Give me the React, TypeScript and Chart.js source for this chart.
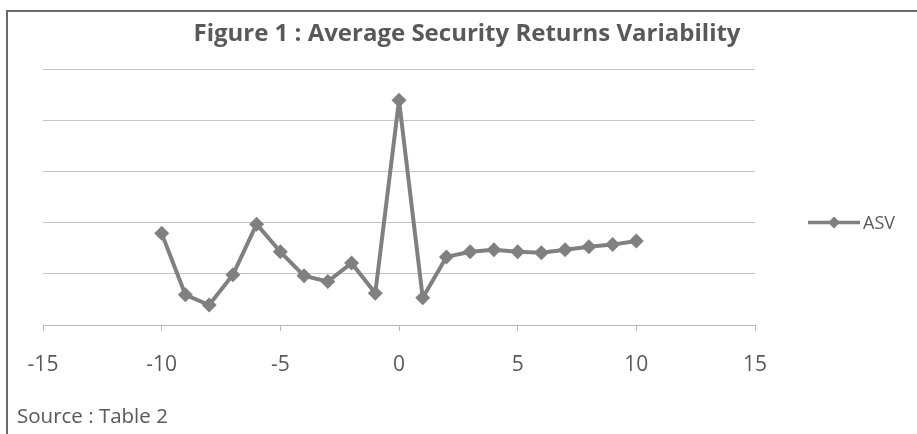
import React, { useEffect, useRef } from "react";
import { Chart, registerables } from "chart.js";

Chart.register(...registerables);

// Event-window days and average security returns variability (ASV)
const eventDays = [-10, -9, -8, -7, -6, -5, -4, -3, -2, -1, 0, 1, 2, 3, 4, 5, 6, 7, 8, 9, 10];
const asvValues = [1.79, 0.59, 0.39, 0.98, 1.97, 1.43, 0.96, 0.85, 1.21, 0.62, 4.39, 0.53, 1.33, 1.43, 1.47, 1.43, 1.41, 1.47, 1.53, 1.57, 1.64];
const xTickValues = [-15, -10, -5, 0, 5, 10, 15];
const seriesLabel = "ASV";
const titleText = "Figure 1 : Average Security Returns Variability";
const sourceText = "Source : Table 2";

const LINE_COLOR = "#808080";
const TEXT_COLOR = "#595959";
const FONT = "'Open Sans', Lato, sans-serif";

// Draws the series legend to the right of the plot area
const sideLegend = {
  id: "sideLegend",
  afterDraw(chart: any) {
    const ds = chart.data.datasets[0];
    const ctx = chart.ctx;
    const area = chart.chartArea;
    const y = area.top + (area.bottom - area.top) * 0.6;
    const x0 = area.right + 53;
    const x1 = x0 + 52;
    ctx.save();
    ctx.strokeStyle = ds.borderColor;
    ctx.lineWidth = 3.5;
    ctx.beginPath();
    ctx.moveTo(x0, y);
    ctx.lineTo(x1, y);
    ctx.stroke();
    ctx.fillStyle = ds.backgroundColor;
    const cx = (x0 + x1) / 2;
    const r = 6;
    ctx.beginPath();
    ctx.moveTo(cx, y - r);
    ctx.lineTo(cx + r, y);
    ctx.lineTo(cx, y + r);
    ctx.lineTo(cx - r, y);
    ctx.closePath();
    ctx.fill();
    ctx.fillStyle = TEXT_COLOR;
    ctx.font = `18px ${FONT}`;
    ctx.textBaseline = "middle";
    ctx.textAlign = "left";
    ctx.fillText(ds.label, x1 + 3, y + 1);
    ctx.restore();
  },
};

export default function App() {
  const canvasRef = useRef<HTMLCanvasElement | null>(null);

  useEffect(() => {
    if (!canvasRef.current) return;
    const chart = new Chart(canvasRef.current, {
      type: "scatter",
      data: {
        datasets: [
          {
            label: seriesLabel,
            data: eventDays.map((d, i) => ({ x: d, y: asvValues[i] })),
            showLine: true,
            borderColor: LINE_COLOR,
            backgroundColor: LINE_COLOR,
            borderWidth: 4,
            borderJoinStyle: "round",
            pointStyle: "rectRot",
            pointRadius: 7.5,
            pointHoverRadius: 7.5,
            pointBorderWidth: 0,
            tension: 0,
          },
        ],
      },
      options: {
        responsive: false,
        animation: false,
        layout: { padding: { left: 43, right: 162, top: 69, bottom: 0 } },
        plugins: {
          legend: { display: false },
          tooltip: { enabled: false },
          title: { display: false },
        },
        scales: {
          x: {
            type: "linear",
            min: -15,
            max: 15,
            afterBuildTicks: (scale: any) => {
              scale.ticks = xTickValues.map((v) => ({ value: v }));
            },
            afterFit: (scale: any) => {
              scale.height = 109;
            },
            grid: {
              drawOnChartArea: false,
              drawTicks: true,
              tickLength: 6,
              tickColor: "#b8b8b8",
            },
            border: { display: true, color: "#b8b8b8", width: 1 },
            ticks: {
              color: TEXT_COLOR,
              font: { family: FONT, size: 21 },
              padding: 21,
              maxRotation: 0,
            },
          },
          y: {
            type: "linear",
            min: 0,
            max: 5,
            afterFit: (scale: any) => {
              scale.width = 0;
            },
            ticks: { display: false, stepSize: 1 },
            grid: { color: "#c4c4c4", lineWidth: 1, drawTicks: false },
            border: { display: false },
          },
        },
      },
      plugins: [sideLegend],
    });
    return () => chart.destroy();
  }, []);

  return (
    <div
      style={{
        position: "absolute",
        left: 0,
        top: 0,
        width: 917,
        height: 434,
        background: "#ffffff",
        overflow: "hidden",
        fontFamily: FONT,
      }}
    >
      <div
        style={{
          position: "absolute",
          left: 6,
          top: 10,
          width: 940,
          height: 460,
          border: "2px solid #6a6a6a",
          boxSizing: "border-box",
        }}
      />
      <canvas ref={canvasRef} width={917} height={434} style={{ position: "absolute", left: 0, top: 0 }} />
      <div
        style={{
          position: "absolute",
          left: 0,
          width: 934,
          top: 16,
          textAlign: "center",
          fontWeight: 700,
          fontSize: 24,
          lineHeight: 1.362,
          color: TEXT_COLOR,
          whiteSpace: "nowrap",
        }}
      >
        {titleText}
      </div>
      <div
        style={{
          position: "absolute",
          left: 17,
          top: 402,
          fontSize: 20.5,
          lineHeight: 1.362,
          color: TEXT_COLOR,
          whiteSpace: "nowrap",
        }}
      >
        {sourceText}
      </div>
    </div>
  );
}
